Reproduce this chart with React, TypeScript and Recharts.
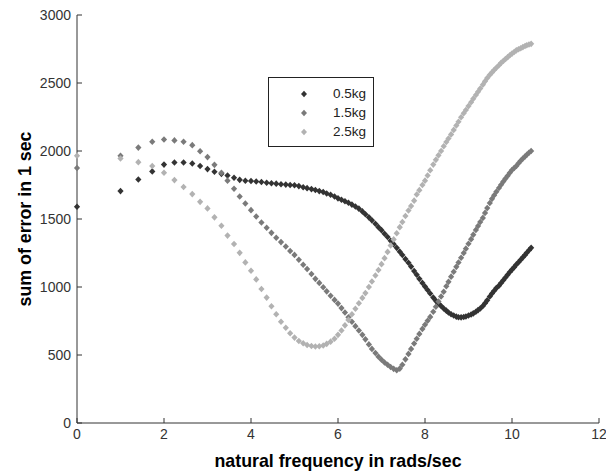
import { Label, Legend, Scatter, ScatterChart, XAxis, YAxis } from "recharts";

const freq = [
  0, 1, 1.41, 1.73, 2, 2.24, 2.45, 2.65, 2.83, 3, 3.16, 3.32, 3.46, 3.61, 3.74, 3.87, 4, 4.12, 4.24, 4.36,
  4.47, 4.58, 4.69, 4.8, 4.9, 5, 5.1, 5.2, 5.29, 5.39, 5.48, 5.57, 5.66, 5.74, 5.83, 5.92, 6, 6.08, 6.16, 6.24,
  6.32, 6.4, 6.48, 6.56, 6.63, 6.71, 6.78, 6.86, 6.93, 7, 7.07, 7.14, 7.21, 7.28, 7.35, 7.42, 7.48, 7.55, 7.62, 7.68,
  7.75, 7.81, 7.87, 7.94, 8, 8.06, 8.12, 8.19, 8.25, 8.31, 8.37, 8.43, 8.49, 8.54, 8.6, 8.66, 8.72, 8.77, 8.83, 8.89,
  8.94, 9, 9.06, 9.11, 9.17, 9.22, 9.27, 9.33, 9.38, 9.43, 9.49, 9.54, 9.59, 9.64, 9.7, 9.75, 9.8, 9.85, 9.9, 9.95,
  10, 10.05, 10.1, 10.15, 10.2, 10.25, 10.3, 10.34, 10.39, 10.44,
];

const err05 = [
  1590, 1705, 1790, 1850, 1900, 1915, 1915, 1908, 1890, 1867, 1847, 1832, 1820, 1803, 1788, 1781, 1779, 1776, 1772, 1767,
  1763, 1760, 1756, 1753, 1750, 1748, 1742, 1734, 1727, 1720, 1713, 1705, 1698, 1688, 1678, 1665, 1652, 1642, 1630, 1619,
  1606, 1592, 1576, 1556, 1535, 1512, 1490, 1465, 1440, 1418, 1392, 1368, 1340, 1315, 1288, 1260, 1235, 1205, 1178, 1150,
  1117, 1090, 1060, 1030, 1003, 978, 952, 922, 898, 878, 860, 842, 826, 812, 800, 790, 782, 778, 777, 779,
  783, 790, 798, 806, 818, 830, 842, 860, 880, 902, 930, 952, 972, 992, 1010, 1030, 1050, 1070, 1090, 1110,
  1128, 1146, 1165, 1182, 1200, 1218, 1236, 1252, 1270, 1288,
];

const err15 = [
  1875, 1965, 2025, 2068, 2085, 2078, 2068, 2043, 1998, 1955, 1898, 1840, 1782, 1722, 1665, 1614, 1565, 1518, 1474, 1436,
  1398, 1362, 1330, 1298, 1265, 1236, 1200, 1164, 1132, 1096, 1060, 1030, 998, 968, 936, 905, 878, 845, 812, 778,
  745, 712, 680, 648, 615, 578, 545, 515, 488, 465, 445, 428, 412, 398, 388, 400, 428, 468, 508, 545,
  585, 620, 655, 692, 722, 752, 780, 818, 855, 893, 930, 965, 1005, 1038, 1076, 1112, 1148, 1180, 1215, 1250,
  1282, 1318, 1352, 1385, 1420, 1448, 1478, 1508, 1545, 1580, 1618, 1648, 1675, 1700, 1728, 1752, 1775, 1797, 1818, 1840,
  1860, 1875, 1890, 1910, 1928, 1945, 1960, 1972, 1987, 2000,
];

const err25 = [
  1965, 1945, 1918, 1890, 1840, 1786, 1735, 1683, 1626, 1578, 1512, 1450, 1378, 1316, 1251, 1181, 1120, 1056, 985, 922,
  858, 800, 745, 700, 660, 628, 603, 586, 574, 566, 563, 564, 570, 582, 598, 620, 648, 680, 718, 758,
  800, 840, 880, 920, 955, 1000, 1040, 1085, 1125, 1168, 1212, 1258, 1305, 1350, 1395, 1440, 1478, 1522, 1562, 1595,
  1635, 1680, 1712, 1750, 1782, 1820, 1858, 1900, 1935, 1968, 2000, 2035, 2066, 2092, 2122, 2155, 2188, 2215, 2248, 2278,
  2302, 2330, 2358, 2385, 2412, 2436, 2460, 2488, 2512, 2536, 2560, 2578, 2596, 2612, 2630, 2648, 2662, 2676, 2690, 2704,
  2716, 2728, 2740, 2748, 2756, 2764, 2772, 2778, 2783, 2788,
];

const xTicks = [0, 2, 4, 6, 8, 10, 12];
const yTicks = [0, 500, 1000, 1500, 2000, 2500, 3000];

const seriesNames = ["0.5kg", "1.5kg", "2.5kg"];
const seriesColors = ["#333333", "#7a7a7a", "#b2b2b2"];

const toPoints = (ys: number[]) => freq.map((x, i) => ({ x, y: ys[i] }));
const series = [err05, err15, err25].map(toPoints);

const FONT = "'Liberation Sans', Arial, sans-serif";

function Diamond(props: { cx?: number; cy?: number; fill?: string }) {
  const { cx = 0, cy = 0, fill } = props;
  return <path d={`M${cx},${cy - 3.3}L${cx + 3.1},${cy}L${cx},${cy + 3.3}L${cx - 3.1},${cy}Z`} fill={fill} />;
}

function MassLegend() {
  return (
    <div
      style={{
        border: "1px solid #222",
        background: "#fff",
        padding: "6px 10px 5px 0",
        fontFamily: FONT,
        fontSize: 13.5,
        color: "#222",
        width: 106,
        boxSizing: "border-box",
      }}
    >
      {seriesNames.map((name, i) => (
        <div key={name} style={{ display: "flex", alignItems: "center", height: 19 }}>
          <svg width={64} height={10} style={{ flexShrink: 0 }}>
            <path d="M35,1.8L38,5L35,8.2L32,5Z" fill={seriesColors[i]} />
          </svg>
          <span>{name}</span>
        </div>
      ))}
    </div>
  );
}

export default function App() {
  return (
    <div style={{ position: "absolute", left: 0, top: 0, background: "#fff" }}>
      <ScatterChart width={606} height={476} margin={{ top: 15, right: 7, bottom: 23, left: 0 }}>
        <XAxis
          type="number"
          dataKey="x"
          domain={[0, 12]}
          ticks={xTicks}
          interval={0}
          height={30}
          stroke="#333"
          tickSize={-5}
          tickMargin={11}
          tick={{ fill: "#333", fontSize: 14, fontFamily: FONT }}
        >
          <Label
            content={({ viewBox }: any) => (
              <text
                x={viewBox.x + viewBox.width / 2}
                y={467}
                textAnchor="middle"
                fontFamily={FONT}
                fontSize={17.8}
                fontWeight="bold"
                fill="#000"
              >
                natural frequency in rads/sec
              </text>
            )}
          />
        </XAxis>
        <YAxis
          type="number"
          dataKey="y"
          domain={[0, 3000]}
          ticks={yTicks}
          interval={0}
          width={77}
          stroke="#333"
          tickSize={-5}
          tickMargin={11}
          tick={{ fill: "#333", fontSize: 14, fontFamily: FONT }}
        >
          <Label
            content={({ viewBox }: any) => {
              const cy = viewBox.y + viewBox.height / 2;
              return (
                <text
                  x={31}
                  y={cy}
                  transform={`rotate(-90 31 ${cy})`}
                  textAnchor="middle"
                  fontFamily={FONT}
                  fontSize={17.8}
                  fontWeight="bold"
                  fill="#000"
                >
                  sum of error in 1 sec
                </text>
              );
            }}
          />
        </YAxis>
        <Legend
          layout="vertical"
          align="center"
          verticalAlign="middle"
          content={<MassLegend />}
          wrapperStyle={{ left: 268, top: 77, width: "auto", bottom: "auto", right: "auto" }}
        />
        {series.map((pts, i) => (
          <Scatter
            key={seriesNames[i]}
            name={seriesNames[i]}
            data={pts}
            fill={seriesColors[i]}
            shape={<Diamond />}
            isAnimationActive={false}
          />
        ))}
      </ScatterChart>
    </div>
  );
}
